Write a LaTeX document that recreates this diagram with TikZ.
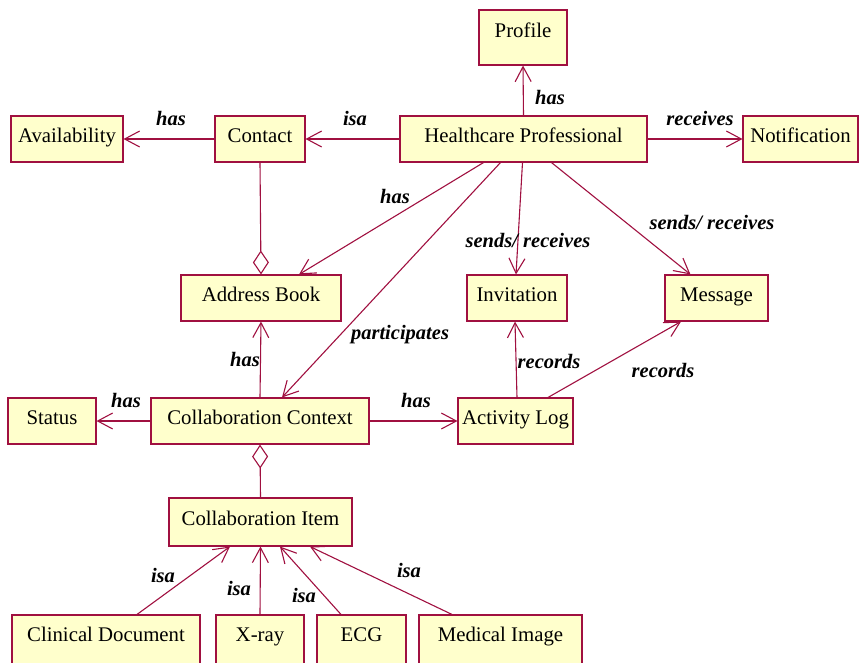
\documentclass[tikz,border=0pt]{standalone}
\usepackage{fontspec}
\setmainfont{Liberation Serif}
\usetikzlibrary{arrows.meta}
\definecolor{edgecol}{RGB}{160,16,64}
\definecolor{boxfill}{RGB}{255,255,204}
\tikzset{
  cls/.style={draw=edgecol, fill=boxfill, line width=1.1pt, inner sep=0pt,
    font=\fontsize{20.8}{22}\selectfont, minimum height=46pt,
    text height=14pt, text depth=8pt},
  rel/.style={draw=edgecol, line width=1.1pt, -{Straight Barb[length=15pt,width=16pt,line width=1.1pt]}},
  agg/.style={draw=edgecol, line width=1.1pt, -{Diamond[open,length=24pt,width=16pt,line width=1.1pt,fill=white]}},
  lbl/.style={font=\fontsize{20.5}{22}\selectfont\bfseries\itshape, inner sep=0pt}
}
\begin{document}
\begin{tikzpicture}[x=1pt,y=-1pt]
\useasboundingbox (0,0) rectangle (860,662);
% classes
\node[cls, minimum width=88pt, minimum height=55pt] (prof) at (523,37.5) {\raisebox{3.5pt}{Profile}};
\node[cls, minimum width=112pt] (avail) at (67,139) {Availability};
\node[cls, minimum width=90pt] (contact) at (260,139) {Contact};
\node[cls, minimum width=247pt] (hp) at (523.5,139) {Healthcare Professional};
\node[cls, minimum width=115pt] (notif) at (800.5,139) {Notification};
\node[cls, minimum width=160pt] (ab) at (261,298) {Address Book};
\node[cls, minimum width=100pt] (inv) at (517,298) {Invitation};
\node[cls, minimum width=103pt] (msg) at (716.5,298) {Message};
\node[cls, minimum width=88pt] (status) at (52,421) {Status};
\node[cls, minimum width=218pt] (cc) at (260,421) {Collaboration Context};
\node[cls, minimum width=115pt] (al) at (515.5,421) {Activity Log};
\node[cls, minimum width=183pt, minimum height=48pt] (ci) at (260.5,522) {Collaboration Item};
\node[cls, minimum width=188pt, minimum height=52pt] (cd) at (106,641) {\raisebox{3pt}{Clinical Document}};
\node[cls, minimum width=88pt, minimum height=52pt] (xray) at (260,641) {\raisebox{3pt}{X-ray}};
\node[cls, minimum width=89pt, minimum height=52pt] (ecg) at (361.5,641) {\raisebox{3pt}{ECG}};
\node[cls, minimum width=163pt, minimum height=52pt] (mi) at (500.5,641) {\raisebox{3pt}{Medical Image}};
% relations
\draw[rel] (hp.north) -- (prof.south);
\draw[rel] (hp.west) -- (contact.east);
\draw[rel] (contact.west) -- (avail.east);
\draw[rel] (hp.east) -- (notif.west);
\draw[agg] (contact.south) -- (ab.north);
\draw[rel] ([xshift=-40pt]hp.south) -- ([xshift=38pt]ab.north);
\draw[rel] ([xshift=-23pt]hp.south) -- ([xshift=22pt]cc.north);
\draw[rel] ([xshift=-1pt]hp.south) -- ([xshift=-1pt]inv.north);
\draw[rel] ([xshift=28pt]hp.south) -- ([xshift=-26pt]msg.north);
\draw[rel] (cc.north) -- (ab.south);
\draw[rel] (cc.west) -- (status.east);
\draw[rel] (cc.east) -- (al.west);
\draw[rel] ([xshift=1.5pt]al.north) -- ([xshift=-2pt]inv.south);
\draw[rel] ([xshift=32.5pt]al.north) -- ([xshift=-35.5pt]msg.south);
\draw[agg] (ci.north) -- (cc.south);
\draw[rel] ([xshift=31pt]cd.north) -- ([xshift=-30.5pt]ci.south);
\draw[rel] (xray.north) -- (ci.south);
\draw[rel] ([xshift=-20.5pt]ecg.north) -- ([xshift=19.5pt]ci.south);
\draw[rel] ([xshift=-48.5pt]mi.north) -- ([xshift=49.5pt]ci.south);
% labels
\node[lbl] (l1) at (550,97) {has};
\node[lbl] (l2) at (171,118) {has};
\node[lbl] (l3) at (355,118) {isa};
\node[lbl] (l4) at (700,118) {receives};
\node[lbl] (l5) at (395,196) {has};
\node[lbl] (l6) at (528,240) {sends/ receives};
\node[lbl] (l7) at (712,222) {sends/ receives};
\node[lbl] (l8) at (400,335) {participates};
\node[lbl] (l9) at (245,359) {has};
\node[lbl] (l10) at (549,361) {records};
\node[lbl] (l11) at (663,370) {records};
\node[lbl] (l12) at (126,400) {has};
\node[lbl] (l13) at (416,400) {has};
\node[lbl] (l14) at (163,575) {isa};
\node[lbl] (l15) at (239,588) {isa};
\node[lbl] (l16) at (304,595) {isa};
\node[lbl] (l17) at (409,570) {isa};
\end{tikzpicture}
\end{document}
